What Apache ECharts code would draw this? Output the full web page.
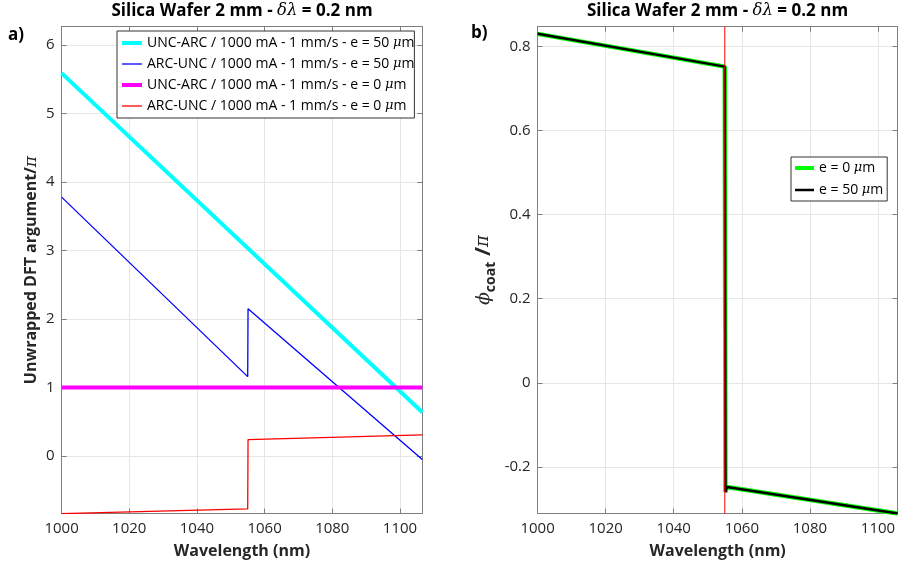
<!DOCTYPE html>
<html>
<head>
<meta charset="utf-8">
<script src="https://cdn.jsdelivr.net/npm/echarts@6/dist/echarts.min.js"></script>
<style>
  html, body { margin: 0; padding: 0; background: #fff; }
  #chart { width: 899px; height: 573px; }
</style>
</head>
<body>
<div id="chart"></div>
<script>
// ---- Panel a): unwrapped DFT argument (units of pi) ----
const cyanX = [1000, 1106.6];
const cyanY = [5.59, 0.64];
const blueX = [1000, 1055, 1055.1, 1106.6];
const blueY = [3.78, 1.16, 2.15, -0.05];
const magentaX = [1000, 1106.6];
const magentaY = [1.0, 1.0];
const redX = [1000, 1055, 1055.1, 1106.6];
const redY = [-0.84, -0.77, 0.24, 0.31];
const namesA = [
  'UNC-ARC / 1000 mA - 1 mm/s - e = 50 μm',
  'ARC-UNC / 1000 mA - 1 mm/s - e = 50 μm',
  'UNC-ARC / 1000 mA - 1 mm/s - e = 0 μm',
  'ARC-UNC / 1000 mA - 1 mm/s - e = 0 μm'
];

// ---- Panel b): coating phase (units of pi) ----
const coatX = [1000, 1055, 1055.2, 1055.6, 1105.8];
const coat0Y = [0.83, 0.752, -0.26, -0.248, -0.311];
const coat50Y = [0.83, 0.752, -0.26, -0.248, -0.311];
const refX = [1055, 1055];
const refY = [-0.311, 0.847];
const namesB = ['e = 0 μm', 'e = 50 μm'];

// axis ranges and tick steps
const xRangeA = [1000, 1106.6];
const xRangeB = [1000, 1105.8];
const yRangeA = [-0.837, 6.267];
const yRangeB = [-0.311, 0.847];
const xStep = 20;
const yStepA = 1;
const yStepB = 0.2;

const pairs = (xs, ys) => xs.map((x, i) => [x, ys[i]]);

const FONT = 'Open Sans';
const AXIS_GRAY = '#7f7f7f';
const GRID_GRAY = '#e6e6e6';
const LABEL = '#262626';

// plain numbers, no thousands separators
const plain = (v) => String(Math.round(v * 1000) / 1000);

function xAxis(gridIndex, range, primary) {
  return {
    type: 'value', gridIndex, min: range[0], max: range[1], interval: xStep,
    position: primary ? 'bottom' : 'top',
    axisLine: { show: true, onZero: false, lineStyle: { color: AXIS_GRAY, width: 1 } },
    axisTick: { show: true, inside: true, length: 5, lineStyle: { color: AXIS_GRAY } },
    axisLabel: { show: primary, showMaxLabel: false, formatter: plain, color: LABEL, fontFamily: FONT, fontSize: 15, margin: 8 },
    splitLine: { show: primary, lineStyle: { color: GRID_GRAY, width: 1 } },
    name: primary ? 'Wavelength (nm)' : '',
    nameLocation: 'middle', nameGap: 30,
    nameTextStyle: { fontFamily: FONT, fontWeight: 'bold', fontSize: 16, color: LABEL }
  };
}

function yAxis(gridIndex, range, step, primary, name, gap, rich) {
  return {
    type: 'value', gridIndex, min: range[0], max: range[1],
    minInterval: step, maxInterval: step,
    position: primary ? 'left' : 'right',
    axisLine: { show: true, onZero: false, lineStyle: { color: AXIS_GRAY, width: 1 } },
    axisTick: { show: true, inside: true, length: 5, lineStyle: { color: AXIS_GRAY } },
    axisLabel: { show: primary, showMinLabel: false, showMaxLabel: false, formatter: plain, color: LABEL, fontFamily: FONT, fontSize: 15, margin: 7 },
    splitLine: { show: primary, lineStyle: { color: GRID_GRAY, width: 1 } },
    name: primary ? name : '',
    nameLocation: 'middle', nameGap: gap, nameRotate: 90,
    nameTextStyle: { fontFamily: FONT, fontWeight: 'bold', fontSize: 16, color: LABEL, rich: rich }
  };
}

const muRich = {
  mu: { fontFamily: 'DejaVu Serif', fontStyle: 'italic', fontSize: 13, color: '#000', lineHeight: 16 }
};
const muFormat = (name) => name.replace('μ', '{mu|μ}');
const hiddenSymbol = { opacity: 0, borderWidth: 0 };

function lineSeries(name, xs, ys, color, width, xi, yi, z) {
  return {
    name, type: 'line', xAxisIndex: xi, yAxisIndex: yi,
    data: pairs(xs, ys), showSymbol: false, symbol: 'none',
    lineStyle: { color, width }, itemStyle: { color },
    z, animation: false, silent: true
  };
}

const titleStyle = {
  text: 'Silica Wafer 2 mm - {g|δλ} = 0.2 nm',
  align: 'center', verticalAlign: 'middle',
  font: 'bold 17px "Open Sans"', fill: '#000',
  rich: { g: { fontFamily: 'DejaVu Serif', fontStyle: 'italic', fontSize: 16.5, fill: '#000' } }
};

const option = {
  backgroundColor: '#fff',
  animation: false,
  grid: [
    { left: 61.6, top: 26.7, width: 360.7, height: 486.8, containLabel: false },
    { left: 537.6, top: 26.7, width: 360.1, height: 486.8, containLabel: false }
  ],
  xAxis: [
    xAxis(0, xRangeA, true), xAxis(0, xRangeA, false),
    xAxis(1, xRangeB, true), xAxis(1, xRangeB, false)
  ],
  yAxis: [
    yAxis(0, yRangeA, yStepA, true, 'Unwrapped DFT argument/{pi|π}', 22, {
      pi: { fontFamily: 'DejaVu Serif', fontStyle: 'italic', fontWeight: 'normal', fontSize: 17, color: LABEL }
    }),
    yAxis(0, yRangeA, yStepA, false, '', 0, null),
    yAxis(1, yRangeB, yStepB, true, '{phi|ϕ}{sub|coat}{sl| /}{pi|π}', 40, {
      phi: { fontFamily: 'DejaVu Serif', fontStyle: 'italic', fontWeight: 'normal', fontSize: 19, color: LABEL, lineHeight: 28, verticalAlign: 'middle' },
      sub: { fontFamily: FONT, fontWeight: 'bold', fontSize: 14, color: LABEL, lineHeight: 28, verticalAlign: 'bottom' },
      sl: { fontFamily: FONT, fontWeight: 'bold', fontSize: 22, color: LABEL, lineHeight: 28, verticalAlign: 'middle' },
      pi: { fontFamily: 'DejaVu Serif', fontStyle: 'italic', fontWeight: 'normal', fontSize: 18, color: LABEL, lineHeight: 28, verticalAlign: 'middle' }
    }),
    yAxis(1, yRangeB, yStepB, false, '', 0, null)
  ],
  legend: [
    {
      orient: 'vertical', left: 117, top: 31,
      backgroundColor: '#fff', borderColor: '#333', borderWidth: 1, borderRadius: 0,
      padding: [4, 0, 4, 3], itemGap: 5, itemWidth: 20, itemHeight: 12,
      data: [
        { name: namesA[0], lineStyle: { width: 4, color: '#00ffff' }, itemStyle: hiddenSymbol },
        { name: namesA[1], lineStyle: { width: 1.3, color: '#0000ff' }, itemStyle: hiddenSymbol },
        { name: namesA[2], lineStyle: { width: 4, color: '#ff00ff' }, itemStyle: hiddenSymbol },
        { name: namesA[3], lineStyle: { width: 1.3, color: '#ff0000' }, itemStyle: hiddenSymbol }
      ],
      formatter: muFormat,
      textStyle: { fontFamily: FONT, fontSize: 14, color: '#000', lineHeight: 16, rich: muRich },
      selectedMode: false
    },
    {
      orient: 'vertical', left: 791, top: 157,
      backgroundColor: '#fff', borderColor: '#333', borderWidth: 1, borderRadius: 0,
      padding: [3, 4, 3, 2], itemGap: 6, itemWidth: 19, itemHeight: 12,
      data: [
        { name: namesB[0], lineStyle: { width: 4, color: '#00ff00' }, itemStyle: hiddenSymbol },
        { name: namesB[1], lineStyle: { width: 2.5, color: '#000000' }, itemStyle: hiddenSymbol }
      ],
      formatter: muFormat,
      textStyle: { fontFamily: FONT, fontSize: 14, color: '#000', lineHeight: 16, rich: muRich },
      selectedMode: false
    }
  ],
  series: [
    lineSeries(namesA[0], cyanX, cyanY, '#00ffff', 4, 0, 0, 2),
    lineSeries(namesA[1], blueX, blueY, '#0000ff', 1.3, 0, 0, 3),
    lineSeries(namesA[2], magentaX, magentaY, '#ff00ff', 4, 0, 0, 4),
    lineSeries(namesA[3], redX, redY, '#ff0000', 1.3, 0, 0, 5),
    lineSeries(namesB[0], coatX, coat0Y, '#00ff00', 4.5, 2, 2, 2),
    lineSeries(namesB[1], coatX, coat50Y, '#000000', 2.5, 2, 2, 3),
    lineSeries('ref', refX, refY, '#ff0000', 1, 2, 2, 4)
  ],
  graphic: [
    { type: 'text', x: 242, y: 11, style: Object.assign({}, titleStyle) },
    { type: 'text', x: 717.5, y: 11, style: Object.assign({}, titleStyle) },
    {
      type: 'text', x: 8, y: 35,
      style: { text: 'a)', verticalAlign: 'middle', font: 'bold 17px "Open Sans"', fill: '#000' }
    },
    {
      type: 'text', x: 471, y: 33,
      style: { text: 'b)', verticalAlign: 'middle', font: 'bold 17px "Open Sans"', fill: '#000' }
    }
  ]
};

const chart = echarts.init(document.getElementById('chart'), null, { renderer: 'canvas' });
chart.setOption(option);
</script>
</body>
</html>
